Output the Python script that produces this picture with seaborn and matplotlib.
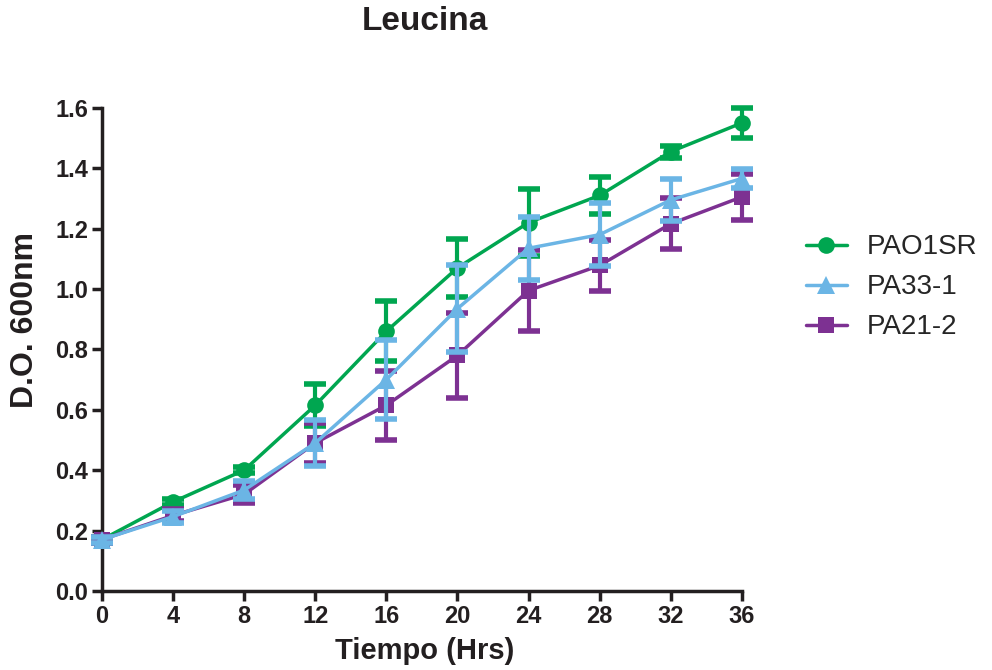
import numpy as np
import pandas as pd
import seaborn as sns
import matplotlib.pyplot as plt

# data
hours = [0, 4, 8, 12, 16, 20, 24, 28, 32, 36]
pao1sr = [0.17, 0.295, 0.40, 0.615, 0.86, 1.07, 1.22, 1.31, 1.455, 1.55]
pao1sr_err = [0.01, 0.01, 0.01, 0.07, 0.10, 0.095, 0.11, 0.06, 0.02, 0.05]
pa33 = [0.17, 0.246, 0.334, 0.49, 0.70, 0.935, 1.135, 1.18, 1.295, 1.366]
pa33_err = [0.01, 0.02, 0.03, 0.075, 0.13, 0.145, 0.105, 0.105, 0.07, 0.03]
pa21 = [0.17, 0.25, 0.32, 0.49, 0.615, 0.78, 0.995, 1.078, 1.216, 1.305]
pa21_err = [0.01, 0.02, 0.03, 0.065, 0.115, 0.14, 0.135, 0.085, 0.085, 0.075]

names = ['PAO1SR', 'PA33-1', 'PA21-2']
colors = {'PAO1SR': '#00A650', 'PA33-1': '#6BB5E5', 'PA21-2': '#7D3192'}
markers = {'PAO1SR': 'o', 'PA33-1': '^', 'PA21-2': 's'}

df = pd.concat([
    pd.DataFrame({'hrs': hours, 'od': pao1sr, 'err': pao1sr_err, 'cepa': 'PAO1SR'}),
    pd.DataFrame({'hrs': hours, 'od': pa33, 'err': pa33_err, 'cepa': 'PA33-1'}),
    pd.DataFrame({'hrs': hours, 'od': pa21, 'err': pa21_err, 'cepa': 'PA21-2'}),
])

sns.set_style('ticks')
plt.rcParams['font.family'] = ['Liberation Sans', 'DejaVu Sans']
dark = '#231F20'

fig = plt.figure(figsize=(9.92, 6.70), dpi=100)
ax = fig.add_axes([0.1028, 0.118, 0.645, 0.721])

# drawing order: green, purple, blue on top
for i, name in enumerate(['PAO1SR', 'PA21-2', 'PA33-1']):
    sub = df[df['cepa'] == name]
    ax.errorbar(sub['hrs'], sub['od'], yerr=sub['err'], fmt='none',
                ecolor=colors[name], elinewidth=3, capsize=8, capthick=4,
                clip_on=False, zorder=2 + i)
    sns.lineplot(data=sub, x='hrs', y='od', ax=ax, color=colors[name],
                 marker=markers[name], markersize=12 if name != 'PA33-1' else 13,
                 markeredgewidth=0, linewidth=2.5, label=name,
                 clip_on=False, zorder=2 + i)

ax.set_xlim(0, 36)
ax.set_ylim(0, 1.6)
ax.set_xticks(hours)
ax.set_yticks(np.arange(0, 1.61, 0.2))
ax.set_yticklabels([f'{v:.1f}' for v in np.arange(0, 1.61, 0.2)])
for s in ['top', 'right']:
    ax.spines[s].set_visible(False)
for s in ['left', 'bottom']:
    ax.spines[s].set_linewidth(2.5)
    ax.spines[s].set_color(dark)
ax.tick_params(width=2.5, length=7, color=dark, labelsize=17, pad=3)
for lab in ax.get_xticklabels() + ax.get_yticklabels():
    lab.set_fontweight('bold')
    lab.set_color(dark)

ax.set_xlabel('Tiempo (Hrs)', fontsize=21, fontweight='bold', color=dark)
ax.set_ylabel('D.O. 600nm', fontsize=23, fontweight='bold', color=dark)
ax.xaxis.set_label_coords(0.505, -0.095)
ax.yaxis.set_label_coords(-0.097, 0.56)
fig.text(425 / 992, 1 - 22 / 670, 'Leucina', fontsize=24, fontweight='bold',
         color=dark, ha='center', va='center')

handles, labels = ax.get_legend_handles_labels()
ax.get_legend().remove()
order = [labels.index(n) for n in names]
fig.legend([handles[i] for i in order], names, loc='upper left',
           bbox_to_anchor=(0.812, 0.65), frameon=False, fontsize=20,
           borderpad=0, borderaxespad=0, handlelength=1.5, handletextpad=0.7,
           labelspacing=0.5)

fig.savefig('out.png', dpi=100)
